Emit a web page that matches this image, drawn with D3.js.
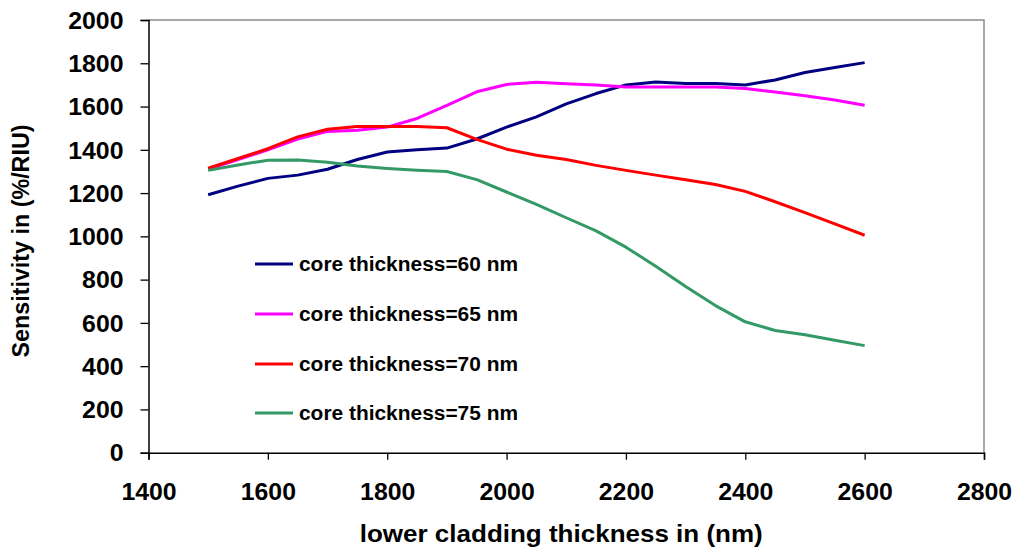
<!DOCTYPE html>
<html>
<head>
<meta charset="utf-8">
<script src="https://cdn.jsdelivr.net/npm/d3@7"></script>
<style>
  html, body { margin: 0; padding: 0; background: #fff; }
  svg { display: block; }
  text { font-family: "Liberation Sans", Arial, sans-serif; font-weight: bold; fill: #000; }
</style>
</head>
<body>
<svg id="chart" width="1016" height="552"></svg>
<script>
// Lower cladding thickness (nm) at which sensitivity was computed
const thickness = [1500, 1550, 1600, 1650, 1700, 1750, 1800, 1850, 1900, 1950, 2000, 2050,
                   2100, 2150, 2200, 2250, 2300, 2350, 2400, 2450, 2500, 2550, 2600];

// Sensitivity (%/RIU) for each core thickness
const core60 = [1192, 1232, 1268, 1283, 1310, 1355, 1390, 1400, 1408, 1450, 1505, 1552,
                1612, 1660, 1700, 1713, 1706, 1706, 1700, 1723, 1757, 1780, 1803];
const core65 = [1310, 1355, 1400, 1450, 1485, 1490, 1505, 1545, 1605, 1668, 1702, 1712,
                1705, 1700, 1690, 1690, 1690, 1690, 1683, 1667, 1650, 1630, 1606];
const core70 = [1315, 1360, 1405, 1460, 1495, 1508, 1508, 1508, 1502, 1448, 1403, 1375,
                1355, 1328, 1305, 1283, 1262, 1240, 1208, 1160, 1110, 1058, 1005];
const core75 = [1305, 1330, 1352, 1353, 1343, 1325, 1314, 1306, 1300, 1262, 1205, 1148,
                1086, 1025, 950, 862, 768, 680, 605, 565, 545, 520, 495];

const seriesNames = ["core thickness=60 nm", "core thickness=65 nm",
                     "core thickness=70 nm", "core thickness=75 nm"];
const seriesValues = [core60, core65, core70, core75];
const seriesColors = ["#000080", "#FF00FF", "#FF0000", "#339966"];

const xTicks = [1400, 1600, 1800, 2000, 2200, 2400, 2600, 2800];
const yTicks = [0, 200, 400, 600, 800, 1000, 1200, 1400, 1600, 1800, 2000];

const xTitle = "lower cladding thickness in (nm)";
const yTitle = "Sensitivity in (%/RIU)";

// Plot frame
const plotLeft = 148.5, plotRight = 984, plotTop = 20, plotBottom = 452.7;

const svg = d3.select("#chart");

const x = d3.scaleLinear().domain([1400, 2800]).range([plotLeft, plotRight]);
const y = d3.scaleLinear().domain([0, 2000]).range([plotBottom, plotTop]);

// stretch text horizontally to a target width
function fitWidth(sel, w) {
  sel.attr("textLength", w).attr("lengthAdjust", "spacingAndGlyphs");
}
function widen(sel, k) {
  sel.each(function () {
    const len = this.getComputedTextLength();
    d3.select(this).attr("textLength", len * k).attr("lengthAdjust", "spacingAndGlyphs");
  });
}

// top and right frame lines
svg.append("path")
  .attr("d", `M${plotLeft},${plotTop}H${plotRight}V${plotBottom}`)
  .attr("fill", "none")
  .attr("stroke", "#8c8c8c")
  .attr("stroke-width", 1.5);

// y axis
const gy = svg.append("g")
  .attr("transform", `translate(${plotLeft},0)`)
  .call(d3.axisLeft(y).tickValues(yTicks).tickSize(8).tickPadding(17).tickFormat(d3.format("d")));
gy.select(".domain").attr("stroke", "#000").attr("stroke-width", 1.5);
gy.selectAll(".tick line").attr("stroke", "#000").attr("stroke-width", 1.3);
gy.selectAll(".tick text")
  .attr("font-size", 23).attr("font-family", null).attr("dy", "0.36em");
widen(gy.selectAll(".tick text"), 1.08);

// x axis
const gx = svg.append("g")
  .attr("transform", `translate(0,${plotBottom})`)
  .call(d3.axisBottom(x).tickValues(xTicks).tickSize(7).tickPadding(24).tickFormat(d3.format("d")));
gx.select(".domain").attr("stroke", "#000").attr("stroke-width", 1.5);
gx.selectAll(".tick line").attr("stroke", "#000").attr("stroke-width", 1.3);
gx.selectAll(".tick text").attr("font-size", 23).attr("font-family", null);
widen(gx.selectAll(".tick text"), 1.08);
svg.selectAll(".domain").attr("fill", "none");

// axis titles
svg.append("text")
  .attr("x", (plotLeft + plotRight) / 2 - 5)
  .attr("y", 541.5)
  .attr("text-anchor", "middle")
  .attr("font-size", 24)
  .text(xTitle)
  .call(fitWidth, 403);

svg.append("text")
  .attr("transform", "translate(29,241) rotate(-90)")
  .attr("text-anchor", "middle")
  .attr("font-size", 23)
  .text(yTitle)
  .call(fitWidth, 233);

// series lines
const line = d3.line()
  .x((d, i) => x(thickness[i]))
  .y(d => y(d))
  .curve(d3.curveLinear);

svg.append("g")
  .selectAll("path")
  .data(seriesValues)
  .join("path")
  .attr("d", d => line(d))
  .attr("fill", "none")
  .attr("stroke", (d, i) => seriesColors[i])
  .attr("stroke-width", 3)
  .attr("stroke-linejoin", "round");

// legend
const legendRows = [264, 314, 364, 413];
const lg = svg.append("g")
  .selectAll("g")
  .data(seriesNames)
  .join("g")
  .attr("transform", (d, i) => `translate(255,${legendRows[i]})`);
lg.append("line")
  .attr("x1", 0).attr("x2", 38)
  .attr("stroke", (d, i) => seriesColors[i])
  .attr("stroke-width", 3);
lg.append("text")
  .attr("x", 44)
  .attr("dy", "0.36em")
  .attr("font-size", 20)
  .text(d => d)
  .call(fitWidth, 219);
</script>
</body>
</html>
